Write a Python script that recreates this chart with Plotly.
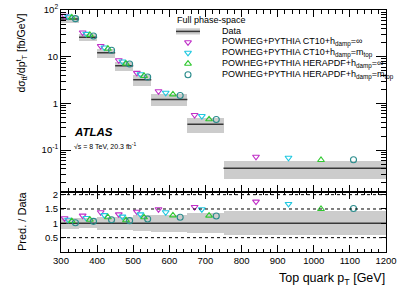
import plotly.graph_objects as go

# ---------------- data ----------------
bin_edges = [300, 350, 400, 450, 500, 550, 650, 750, 1200]
data_xsec = [64, 26, 12.2, 6.4, 3.2, 1.22, 0.36, 0.041]          # fb/GeV
data_rel_unc = [0.19, 0.18, 0.22, 0.22, 0.28, 0.29, 0.35, 0.42]  # relative total uncertainty

pred_ct10_inf = [75.2, 33.0, 16.9, 8.4, 4.5, 1.82, 0.565, 0.072]
pred_ct10_mtop = [72.0, 30.8, 15.7, 7.9, 4.2, 1.69, 0.536, 0.0687]
pred_hera_inf = [69.1, 29.3, 14.8, 7.1, 3.87, 1.56, 0.457, 0.0615]
pred_hera_mtop = [65.3, 27.8, 13.7, 7.0, 3.68, 1.48, 0.452, 0.0623]

model_names = [
    "POWHEG+PYTHIA CT10+h<sub>damp</sub>=∞",
    "POWHEG+PYTHIA CT10+h<sub>damp</sub>=m<sub>top</sub>",
    "POWHEG+PYTHIA HERAPDF+h<sub>damp</sub>=∞",
    "POWHEG+PYTHIA HERAPDF+h<sub>damp</sub>=m<sub>top</sub>",
]
model_values = [pred_ct10_inf, pred_ct10_mtop, pred_hera_inf, pred_hera_mtop]

x_tick_vals = [300, 400, 500, 600, 700, 800, 900, 1000, 1100, 1200]
y_tick_vals = [0.1, 1, 10, 100]
y_tick_text = ["10<sup>-1</sup>", "1", "10", "10<sup>2</sup>"]
ratio_tick_vals = [0.5, 1, 1.5, 2]
ratio_tick_text = ["0.5", "1", "1.5", "2"]
ratio_ref_lines = [0.5, 1.5, 2]

# ---------------- styles ----------------
W, H = 407, 292
L, R, T, B = 61, 21, 10, 40
PW, PH = W - L - R, H - T - B
FONT = "Liberation Sans, Arial, Helvetica, sans-serif"
model_colors = ["#c030c8", "#20c8e0", "#30c830", "#2a8c8c"]
model_symbols = ["triangle-down-open", "triangle-down-open", "triangle-up-open", "circle-open"]
offsets = [0.2, 0.4, 0.6, 0.8]
band_color = "#cccccc"
line_color = "#383838"


def pxx(px):
    return (px - L) / PW


def pxy(py):
    return (H - B - py) / PH


lo = bin_edges[:-1]
hi = bin_edges[1:]
widths = [h - l for l, h in zip(lo, hi)]
centers = [(l + h) / 2 for l, h in zip(lo, hi)]

fig = go.Figure()

# ---- top panel: data band ----
fig.add_trace(go.Bar(
    x=centers, width=widths,
    base=[v * (1 - e) for v, e in zip(data_xsec, data_rel_unc)],
    y=[v * 2 * e for v, e in zip(data_xsec, data_rel_unc)],
    marker=dict(color=band_color, line=dict(width=0)),
    xaxis="x", yaxis="y", showlegend=False, hoverinfo="skip"))
xs, ys = [], []
for l, h, v in zip(lo, hi, data_xsec):
    xs += [l, h, None]
    ys += [v, v, None]
fig.add_trace(go.Scatter(x=xs, y=ys, mode="lines", line=dict(color=line_color, width=1.5),
                         xaxis="x", yaxis="y", showlegend=False, hoverinfo="skip"))

# ---- ratio panel: band ----
fig.add_trace(go.Bar(
    x=centers, width=widths,
    base=[1 - e for e in data_rel_unc],
    y=[2 * e for e in data_rel_unc],
    marker=dict(color=band_color, line=dict(width=0)),
    xaxis="x2", yaxis="y2", showlegend=False, hoverinfo="skip"))
fig.add_trace(go.Scatter(x=[bin_edges[0], bin_edges[-1]], y=[1, 1], mode="lines",
                         line=dict(color=line_color, width=1.5),
                         xaxis="x2", yaxis="y2", showlegend=False, hoverinfo="skip"))

# ---- model predictions ----
for k, (vals, col, sym) in enumerate(zip(model_values, model_colors, model_symbols)):
    px = [l + offsets[k] * w for l, w in zip(lo, widths)]
    mk = dict(symbol=sym, size=6, color=col, line=dict(width=1.1, color=col))
    fig.add_trace(go.Scatter(x=px, y=vals, mode="markers", marker=mk,
                             xaxis="x", yaxis="y", showlegend=False, cliponaxis=False))
    fig.add_trace(go.Scatter(x=px, y=[v / d for v, d in zip(vals, data_xsec)], mode="markers",
                             marker=mk, xaxis="x2", yaxis="y2", showlegend=False, cliponaxis=False))

# ---- legend markers (free axis spanning the plot area, pixel coordinates) ----
leg_marker_x = 188
leg_text_x = 220
leg_rows_y = [42.3, 52.8, 63.7, 74.7]
for k, (col, sym) in enumerate(zip(model_colors, model_symbols)):
    fig.add_trace(go.Scatter(x=[leg_marker_x], y=[leg_rows_y[k]], mode="markers",
                             marker=dict(symbol=sym, size=6, color=col, line=dict(width=1.1, color=col)),
                             xaxis="x3", yaxis="y3", showlegend=False, hoverinfo="skip", cliponaxis=False))

annotations = []


def ann(text, x, y, size, xanchor="left", yanchor="middle", angle=0):
    annotations.append(dict(text=text, x=pxx(x), y=pxy(y), xref="paper", yref="paper", showarrow=False,
                            xanchor=xanchor, yanchor=yanchor, textangle=angle,
                            font=dict(family=FONT, size=size, color="black")))


ann("Full phase-space", 175, 20, 9)
ann("Data", leg_text_x, 31.5, 9)
for k, name in enumerate(model_names):
    ann(name, leg_text_x, leg_rows_y[k], 9)
ann("<b><i>ATLAS</i></b>", 72, 131.5, 11.5)
ann("√s = 8 TeV, 20.3 fb<sup>-1</sup>", 72, 146, 7)
ann("dσ<sub>tt̄</sub>/dp<sup>t</sup><sub>T</sub> [fb/GeV]", 21, 53.5, 10.5, xanchor="center", angle=-90)
ann("Pred. / Data", 22, 221, 11, xanchor="center", angle=-90)
ann("Top quark p<sub>T</sub> [GeV]", 387, 279, 12.5, xanchor="right")

shapes = []
shapes.append(dict(type="rect", xref="paper", yref="paper", x0=pxx(176), x1=pxx(200), y0=pxy(28.3), y1=pxy(34.5),
                   fillcolor=band_color, line=dict(width=0), layer="below"))
shapes.append(dict(type="line", xref="paper", yref="paper", x0=pxx(176), x1=pxx(200), y0=pxy(31.4), y1=pxy(31.4),
                   line=dict(color=line_color, width=1.5)))
for r in ratio_ref_lines:
    shapes.append(dict(type="line", xref="x2 domain", yref="y2", x0=0, x1=1, y0=r, y1=r,
                       line=dict(color="black", width=1, dash="dot"), layer="above"))

minor_log = [k * 10 ** d for d in range(-2, 2) for k in range(2, 10)]

axis_common = dict(showgrid=False, zeroline=False, showline=True, linecolor="black", linewidth=1,
                   mirror="allticks", ticks="inside", tickcolor="black",
                   tickfont=dict(family=FONT, size=9.5, color="black"))

fig.update_layout(
    width=W, height=H, margin=dict(l=L, r=R, t=T, b=B, autoexpand=False),
    paper_bgcolor="white", plot_bgcolor="rgba(0,0,0,0)",
    barmode="overlay", bargap=0,
    showlegend=False,
    xaxis=dict(domain=[0, 1], anchor="y", range=[300, 1200], tickvals=x_tick_vals, showticklabels=False,
               ticklen=7, minor=dict(dtick=20, ticks="inside", ticklen=3.5, tickcolor="black"),
               **axis_common),
    yaxis=dict(domain=[0.25, 1], anchor="x", type="log", range=[-1.886, 2.0],
               tickvals=y_tick_vals, ticktext=y_tick_text, ticklen=10,
               minor=dict(tickvals=minor_log, ticks="inside", ticklen=5, tickcolor="black"),
               **axis_common),
    xaxis2=dict(domain=[0, 1], anchor="y2", range=[300, 1200], tickvals=x_tick_vals,
                ticklen=7, minor=dict(dtick=20, ticks="inside", ticklen=3.5, tickcolor="black"),
                **axis_common),
    yaxis2=dict(domain=[0, 0.25], anchor="x2", range=[0, 2.11],
                tickvals=ratio_tick_vals, ticktext=ratio_tick_text, ticklen=5,
                **axis_common),
    xaxis3=dict(domain=[0, 1], anchor="y3", range=[L, W - R], visible=False),
    yaxis3=dict(domain=[0, 1], anchor="x3", range=[H - B, T], visible=False),
    annotations=annotations, shapes=shapes,
)

fig.write_html("out.html", config={"displayModeBar": False, "staticPlot": True},
               post_script="document.body.style.margin='0';document.body.style.overflow='hidden';")
